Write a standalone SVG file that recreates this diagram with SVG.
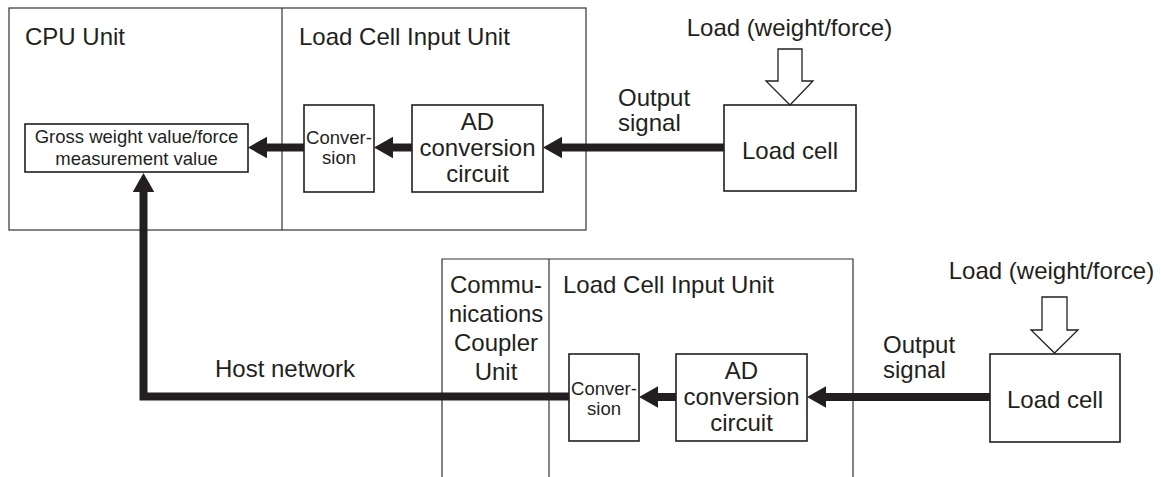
<svg xmlns="http://www.w3.org/2000/svg" width="1161" height="477" viewBox="0 0 1161 477">
<style>
text{font-family:"Liberation Sans",Arial,sans-serif;fill:#231f20}
.lg{font-size:24px}
.sm{font-size:18.5px}
.mid{text-anchor:middle}
.outer{fill:none;stroke:#333;stroke-width:1.2}
.box{fill:#fff;stroke:#231f20;stroke-width:1.6}
.wire{fill:none;stroke:#231f20;stroke-width:8;stroke-linejoin:miter}
.hollow{fill:#fff;stroke:#231f20;stroke-width:1.3;stroke-linejoin:miter}
</style>
<defs>
<marker id="ah" markerUnits="userSpaceOnUse" markerWidth="20" markerHeight="22" refX="0" refY="10.75" orient="auto">
<path d="M0,0 L19,10.75 L0,21.5 z" fill="#231f20"/>
</marker>
</defs>
<rect width="1161" height="477" fill="#fff"/>

<g id="top-rack">
<rect class="outer" x="9" y="8" width="577" height="222"/>
<line class="outer" x1="282" y1="8" x2="282" y2="230"/>
</g>
<g id="cpu-unit"><text class="lg" x="25" y="45">CPU Unit</text></g>
<g id="lci-unit-top"><text class="lg" x="299" y="45">Load Cell Input Unit</text></g>

<g id="gross-value">
<rect class="box" x="25" y="124" width="223" height="48"/>
<text class="sm mid" x="136.5" y="143">Gross weight value/force</text>
<text class="sm mid" x="136.5" y="165">measurement value</text>
</g>
<g id="conversion-top">
<rect class="box" x="304" y="105" width="70" height="87"/>
<text class="sm mid" x="339" y="144">Conver-</text>
<text class="sm mid" x="339" y="164">sion</text>
</g>
<g id="ad-top">
<rect class="box" x="412" y="105" width="131" height="87"/>
<text class="lg mid" x="477.5" y="130">AD</text>
<text class="lg mid" x="477.5" y="156">conversion</text>
<text class="lg mid" x="477.5" y="182">circuit</text>
</g>
<g id="loadcell-top">
<rect class="box" x="724" y="105" width="132" height="86"/>
<text class="lg mid" x="790" y="159">Load cell</text>
</g>
<g id="load-top">
<text class="lg mid" x="789.5" y="36">Load (weight/force)</text>
<path class="hollow" d="M778,49 H802 V81 H813 L790,105 L766,81 H778 Z"/>
</g>
<g id="output-signal-top">
<text class="lg" x="618" y="106">Output</text>
<text class="lg" x="618" y="131">signal</text>
</g>

<g id="bottom-rack">
<polyline class="outer" points="442,477 442,259 853,259 853,477"/>
<line class="outer" x1="549" y1="259" x2="549" y2="477"/>
</g>
<g id="coupler-unit">
<text class="lg mid" x="496" y="293">Commu-</text>
<text class="lg mid" x="496" y="322">nications</text>
<text class="lg mid" x="496" y="351">Coupler</text>
<text class="lg mid" x="496" y="380">Unit</text>
</g>
<g id="lci-unit-bottom"><text class="lg" x="563" y="293">Load Cell Input Unit</text></g>
<g id="conversion-bottom">
<rect class="box" x="569" y="354" width="70" height="87"/>
<text class="sm mid" x="604" y="395">Conver-</text>
<text class="sm mid" x="604" y="415">sion</text>
</g>
<g id="ad-bottom">
<rect class="box" x="676" y="354" width="131" height="87"/>
<text class="lg mid" x="741.5" y="379">AD</text>
<text class="lg mid" x="741.5" y="405">conversion</text>
<text class="lg mid" x="741.5" y="431">circuit</text>
</g>
<g id="loadcell-bottom">
<rect class="box" x="990" y="354" width="130" height="88"/>
<text class="lg mid" x="1055" y="408">Load cell</text>
</g>
<g id="load-bottom">
<text class="lg mid" x="1051.5" y="279">Load (weight/force)</text>
<path class="hollow" d="M1042,297 H1067 V330 H1078 L1054.5,353 L1031,330 H1042 Z"/>
</g>
<g id="output-signal-bottom">
<text class="lg" x="883" y="353">Output</text>
<text class="lg" x="883" y="378">signal</text>
</g>
<g id="host-network-label"><text class="lg" x="215" y="377">Host network</text></g>

<g id="connectors">
<path class="wire" d="M724,147.5 H562" marker-end="url(#ah)"/>
<path class="wire" d="M412,147.5 H393" marker-end="url(#ah)"/>
<path class="wire" d="M304,147.5 H267" marker-end="url(#ah)"/>
<path class="wire" d="M990,397 H826" marker-end="url(#ah)"/>
<path class="wire" d="M676,397 H658" marker-end="url(#ah)"/>
<path class="wire" d="M569,396.5 H143.5 V192" marker-end="url(#ah)"/>
</g>
</svg>
